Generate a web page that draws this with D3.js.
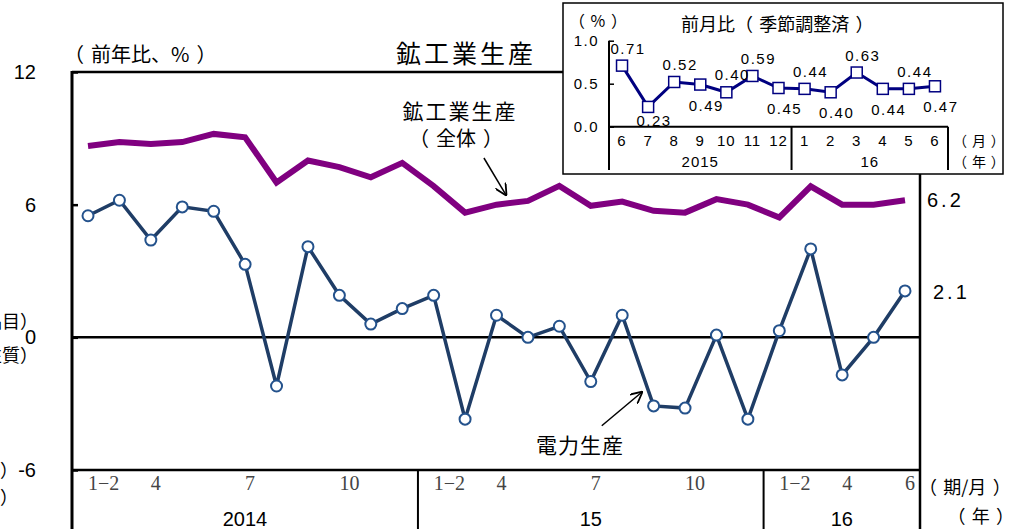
<!DOCTYPE html>
<html><head><meta charset="utf-8">
<script src="https://cdn.jsdelivr.net/npm/d3@7/dist/d3.min.js"></script>
<style>body{margin:0;background:#fff}svg{display:block}</style>
</head><body><svg id="c" width="1018" height="529"></svg>
<script>
// ---- data ----
const periods = ["1-2","3","4","5","6","7","8","9","10","11","12",
                 "1-2","3","4","5","6","7","8","9","10","11","12",
                 "1-2","3","4","5","6"];
const years = ["2014","15","16"];
const yearCounts = [11,11,5];
const shownTicks = ["1-2","4","7","10"];
const miningYoY = [8.65,8.83,8.74,8.83,9.2,9.05,7.0,8.0,7.7,7.24,7.89,6.84,
                   5.64,6.0,6.17,6.85,5.95,6.14,5.72,5.64,6.25,6.0,5.42,
                   6.83,6.0,6.0,6.2];
const electricityYoY = [5.5,6.2,4.4,5.9,5.7,3.3,-2.2,4.1,1.9,0.6,1.3,1.9,
                        -3.7,1.0,0.0,0.5,-2.0,1.0,-3.1,-3.2,0.1,-3.7,0.3,
                        4.0,-1.7,0.0,2.1];
const yTicks = [-6,0,6,12];
const insetMonths = ["6","7","8","9","10","11","12","1","2","3","4","5","6"];
const insetYears = ["2015","16"];
const insetYearCounts = [7,6];
const insetMoM = [0.71,0.23,0.52,0.49,0.40,0.59,0.45,0.44,0.40,0.63,0.44,0.44,0.47];
const insetLabelSide = ["a","b","a","b","a","a","b","a","b","a","b","a","b"];
const insetTicks = [0,0.5,1.0];

// ---- setup ----
const svg = d3.select("#c");
const JP = "'Noto Sans CJK JP','Noto Sans',sans-serif";
const LAT = "'Liberation Sans',Arial,sans-serif";
const SER = "'Liberation Serif','DejaVu Serif',serif";

// write Japanese text keeping full-width spacing around brackets
function jp(sel, str, fs) {
  const parts = str.split(/(（|）)/).filter(s => s);
  parts.forEach((p, k) => {
    const t = sel.append("tspan").text(p);
    if (p === "）") t.attr("dx", fs * 0.35);
    else if (k > 0 && parts[k-1] === "（") t.attr("dx", fs * 0.35);
  });
  return sel;
}
function jpLabel(parent, xx, yy, str, fs, anchor, ls) {
  const t = parent.append("text").attr("x", xx).attr("y", yy).attr("font-family", JP)
    .attr("font-size", fs).attr("text-anchor", anchor || "start").attr("fill", "#000");
  if (ls) t.attr("letter-spacing", ls);
  return jp(t, str, fs);
}

const L = 72, R = 920, T = 72, B = 470;
const x = d3.scaleLinear().domain([0, periods.length - 1]).range([88, 905]);
const y = d3.scaleLinear().domain([-6, 12]).range([B, T]);

// frame
svg.append("line").attr("x1",L).attr("x2",R).attr("y1",T).attr("y2",T).attr("stroke","#000").attr("stroke-width",2.5);
svg.append("line").attr("x1",L).attr("x2",L).attr("y1",T-1).attr("y2",529).attr("stroke","#000").attr("stroke-width",3);
svg.append("line").attr("x1",R).attr("x2",R).attr("y1",T).attr("y2",529).attr("stroke","#000").attr("stroke-width",2.5);
svg.append("line").attr("x1",L).attr("x2",R).attr("y1",y(0)).attr("y2",y(0)).attr("stroke","#000").attr("stroke-width",2.5);
svg.append("line").attr("x1",L).attr("x2",R).attr("y1",B).attr("y2",B).attr("stroke","#000").attr("stroke-width",2.5);

// y axis
const ya = svg.append("g").attr("transform",`translate(${L},0)`)
  .call(d3.axisLeft(y).tickValues(yTicks).tickFormat(d=>d).tickSizeInner(-6).tickSizeOuter(0).tickPadding(36));
ya.select(".domain").remove();
ya.selectAll(".tick line").attr("stroke","#000").attr("stroke-width",2.5);
ya.selectAll("text").attr("font-family",LAT).attr("font-size",20).attr("fill","#000");

// x axis labels (period / month)
let cum = 0;
const bounds = [];
yearCounts.forEach((c,i)=>{ bounds.push([cum, cum+c-1]); cum += c; });
const divX = [];
bounds.forEach((b,i)=>{
  if (i>0) divX.push((x(b[0]-1)+x(b[0]))/2);
});
divX.forEach(dx=>{
  svg.append("line").attr("x1",dx).attr("x2",dx).attr("y1",B).attr("y2",529).attr("stroke","#000").attr("stroke-width",2);
});
periods.forEach((p,i)=>{
  if (shownTicks.includes(p) || i === periods.length-1) {
    svg.append("text").attr("x",x(i)).attr("y",490).attr("font-family",SER).attr("font-size",20)
      .attr("fill","#444").attr("text-anchor","start").text(p.replace("-","−"));
  }
});
const edges = [L, ...divX, R];
years.forEach((yr,i)=>{
  svg.append("text").attr("x",(edges[i]+edges[i+1])/2).attr("y",526).attr("font-family",LAT)
    .attr("font-size",20).attr("text-anchor","middle").attr("fill","#000").text(yr);
});
jpLabel(svg, 919, 494, "（期/月）", 18);
jpLabel(svg, 1014, 523, "（年）", 18, "end");

// mining line
svg.append("path").datum(miningYoY)
  .attr("d", d3.line().x((d,i)=>x(i)).y(d=>y(d)))
  .attr("fill","none").attr("stroke","#800080").attr("stroke-width",6).attr("stroke-linejoin","miter");

// electricity line
svg.append("path").datum(electricityYoY)
  .attr("d", d3.line().x((d,i)=>x(i)).y(d=>y(d)))
  .attr("fill","none").attr("stroke","#1f3d66").attr("stroke-width",3.5);
svg.selectAll("circle.e").data(electricityYoY).join("circle").attr("class","e")
  .attr("cx",(d,i)=>x(i)).attr("cy",d=>y(d)).attr("r",5.5)
  .attr("fill","#fff").attr("stroke","#24528c").attr("stroke-width",2);

// end labels
svg.append("text").attr("x",927).attr("y",y(miningYoY[26])+7).attr("font-family",LAT).attr("font-size",20)
  .attr("letter-spacing",3).text(miningYoY[26].toFixed(1));
svg.append("text").attr("x",933).attr("y",y(electricityYoY[26])+8).attr("font-family",LAT).attr("font-size",20)
  .attr("letter-spacing",3).text(electricityYoY[26].toFixed(1));

// titles
jpLabel(svg, 64, 62, "（前年比、%）", 20);
svg.append("text").attr("x",396).attr("y",63).attr("font-family",JP).attr("font-size",25).attr("letter-spacing",3).text("鉱工業生産");

// annotations
svg.append("defs").append("marker").attr("id","ah").attr("viewBox","0 0 10 10").attr("refX",10).attr("refY",5)
  .attr("markerWidth",12).attr("markerHeight",12).attr("markerUnits","userSpaceOnUse").attr("orient","auto")
  .append("path").attr("d","M0,0 L10,5 L0,10").attr("fill","none").attr("stroke","#000").attr("stroke-width",1.5);
svg.append("text").attr("x",460).attr("y",119).attr("font-family",JP).attr("font-size",21).attr("letter-spacing",2)
  .attr("text-anchor","middle").text("鉱工業生産");
jpLabel(svg, 456, 146, "（全体）", 20, "middle");
svg.append("line").attr("x1",x(12.6)).attr("y1",158).attr("x2",x(13.32)).attr("y2",y(6.4))
  .attr("stroke","#000").attr("stroke-width",1.5).attr("marker-end","url(#ah)");
svg.append("text").attr("x",580).attr("y",453).attr("font-family",JP).attr("font-size",21).attr("letter-spacing",1)
  .attr("text-anchor","middle").text("電力生産");
svg.append("line").attr("x1",x(16.35)).attr("y1",y(-4.0)).attr("x2",x(17.65)).attr("y2",y(-2.45))
  .attr("stroke","#000").attr("stroke-width",1.5).attr("marker-end","url(#ah)");

// clipped texts from neighbouring panel (cut by the picture's left edge, as in the reference)
svg.append("text").attr("x",38).attr("y",328).attr("font-family",JP).attr("font-size",18).attr("text-anchor","end").text("品目）");
svg.append("text").attr("x",38).attr("y",362).attr("font-family",JP).attr("font-size",18).attr("text-anchor","end").text("性質）");
svg.append("text").attr("x",18).attr("y",477).attr("font-family",JP).attr("font-size",18).attr("text-anchor","end").text("）");
svg.append("text").attr("x",18).attr("y",504).attr("font-family",JP).attr("font-size",18).attr("text-anchor","end").text("）");

// ---- inset ----
const g = svg.append("g");
g.append("rect").attr("x",563).attr("y",3).attr("width",440).attr("height",171)
  .attr("fill","#fff").attr("stroke","#000").attr("stroke-width",1.5);
const ix = d3.scaleBand().domain(d3.range(insetMonths.length)).range([609,948]);
const iy = d3.scaleLinear().domain([0,1]).range([126.7,40.7]);
const cx = i => ix(i) + ix.bandwidth()/2;

g.append("line").attr("x1",609).attr("x2",609).attr("y1",iy(1)).attr("y2",170).attr("stroke","#000").attr("stroke-width",2);
g.append("line").attr("x1",609).attr("x2",948).attr("y1",iy(0)).attr("y2",iy(0)).attr("stroke","#000").attr("stroke-width",2);
const iax = g.append("g").attr("transform","translate(609,0)")
  .call(d3.axisLeft(iy).tickValues(insetTicks).tickFormat(d3.format(".1f")).tickSizeInner(-5).tickSizeOuter(0).tickPadding(10));
iax.select(".domain").remove();
iax.selectAll(".tick line").attr("stroke","#000").attr("stroke-width",1.5);
iax.selectAll("text").attr("font-family",LAT).attr("font-size",15).attr("letter-spacing",1.5).attr("fill","#000");

let icum = 0;
const iEdges = [609];
insetYearCounts.forEach(c=>{ icum += c; iEdges.push(ix(icum-1)+ix.bandwidth()); });
iEdges.slice(1).forEach(ex=>{
  g.append("line").attr("x1",ex).attr("x2",ex).attr("y1",iy(0)).attr("y2",170).attr("stroke","#000").attr("stroke-width",2);
});
insetMonths.forEach((m,i)=>{
  g.append("text").attr("x",cx(i)).attr("y",146).attr("font-family",LAT).attr("font-size",15)
    .attr("text-anchor","middle").attr("letter-spacing",1).text(m);
});
insetYears.forEach((yr,i)=>{
  g.append("text").attr("x",(iEdges[i]+iEdges[i+1])/2).attr("y",167).attr("font-family",LAT).attr("font-size",15)
    .attr("text-anchor","middle").attr("letter-spacing",1).text(yr);
});
jpLabel(g, 953, 146, "（月）", 14);
jpLabel(g, 953, 167, "（年）", 14);
jpLabel(g, 569, 27, "（%）", 16);
jpLabel(g, 681, 31, "前月比（季節調整済）", 18);

g.append("path").datum(insetMoM)
  .attr("d", d3.line().x((d,i)=>cx(i)).y(d=>iy(d)))
  .attr("fill","none").attr("stroke","#000080").attr("stroke-width",3);
g.selectAll("rect.s").data(insetMoM).join("rect").attr("class","s")
  .attr("x",(d,i)=>cx(i)-5.5).attr("y",d=>iy(d)-5.5).attr("width",11).attr("height",11)
  .attr("fill","#fff").attr("stroke","#000080").attr("stroke-width",1.5);
g.selectAll("text.v").data(insetMoM).join("text").attr("class","v")
  .attr("x",(d,i)=>cx(i)+6)
  .attr("y",(d,i)=> insetLabelSide[i]==="a" ? iy(d)-12 : Math.min(iy(d)+26, 126))
  .attr("font-family",LAT).attr("font-size",15).attr("letter-spacing",1.5)
  .attr("text-anchor","middle").text(d=>d.toFixed(2));
</script>
</body></html>
